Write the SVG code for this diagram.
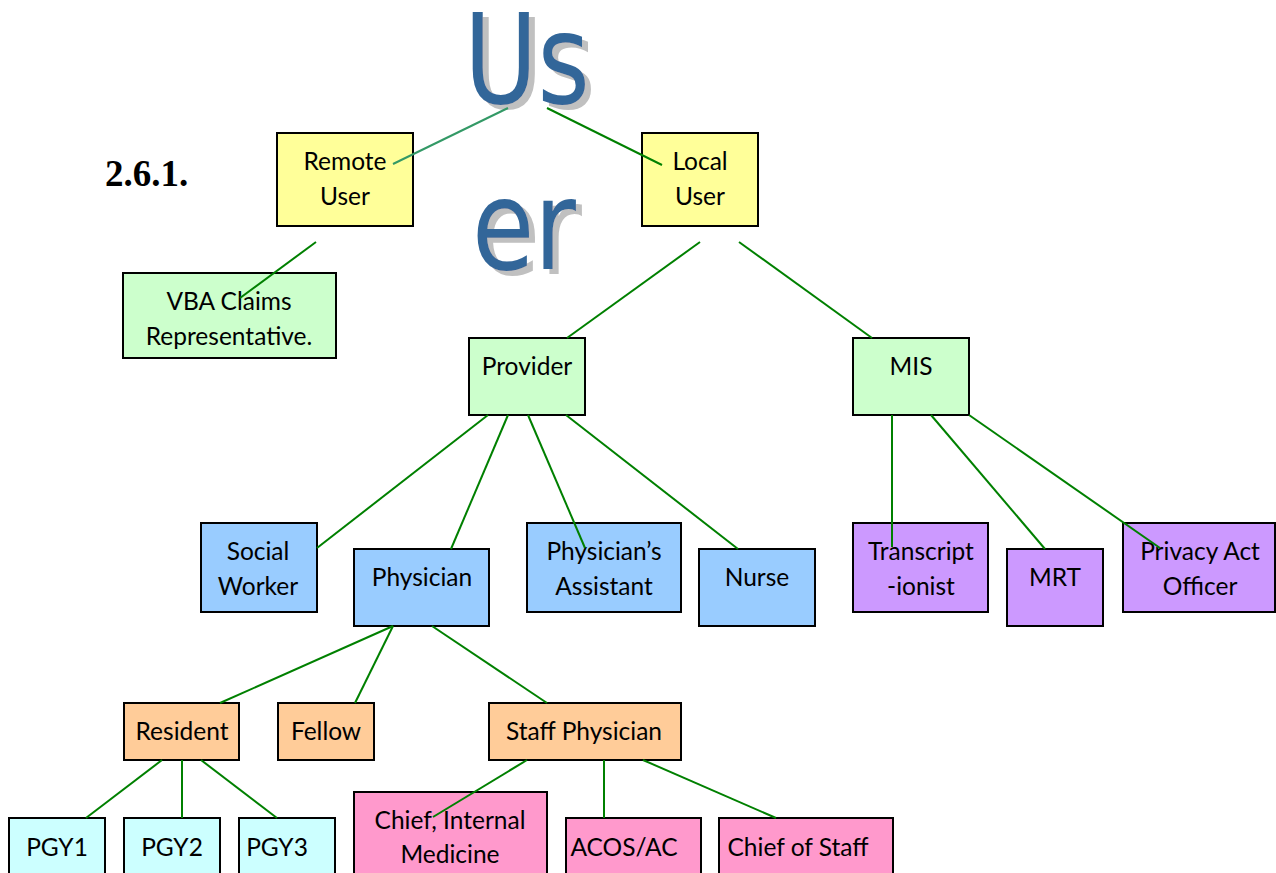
<svg xmlns="http://www.w3.org/2000/svg" width="1276" height="873" viewBox="0 0 1276 873">
<defs>
<filter id="shadow" x="-10%" y="-10%" width="130%" height="130%">
<feOffset in="SourceAlpha" dx="6" dy="5" result="off"/>
<feFlood flood-color="#C0C0C0"/>
<feComposite in2="off" operator="in" result="sh"/>
<feMerge><feMergeNode in="sh"/><feMergeNode in="SourceGraphic"/></feMerge>
</filter>
</defs>
<style>
.box{stroke:#000;stroke-width:2}
.t{font-family:Lato,"Open Sans","Liberation Sans",sans-serif;font-size:24.5px;fill:#000;text-anchor:middle}
.yel{fill:#FFFF99}.grn{fill:#CCFFCC}.blu{fill:#99CCFF}.pur{fill:#CC99FF}.org{fill:#FFCC99}.cyn{fill:#CCFFFF}.pnk{fill:#FF99CC}
.big{font-family:"DejaVu Sans",Verdana,sans-serif;font-size:124px;fill:#336699;filter:url(#shadow)}
.c line{stroke:#008000;stroke-width:2}
</style>
<rect width="1276" height="873" fill="#fff"/>
<g id="title">
<text class="big" x="464" y="103" textLength="126" lengthAdjust="spacingAndGlyphs">Us</text>
<text class="big" x="472" y="269" textLength="104" lengthAdjust="spacingAndGlyphs">er</text>
</g>
<g id="section"><text x="105" y="186" font-family="'Liberation Serif','Times New Roman',serif" font-weight="bold" font-size="37">2.6.1.</text></g>
<g id="remote-user"><rect class="box yel" x="277" y="133" width="136" height="93"/><text class="t" x="345" y="170">Remote</text><text class="t" x="345" y="205">User</text></g>
<g id="local-user"><rect class="box yel" x="642" y="133" width="116" height="93"/><text class="t" x="700" y="170">Local</text><text class="t" x="700" y="205">User</text></g>
<g id="vba"><rect class="box grn" x="123" y="273" width="213" height="85"/><text class="t" x="229" y="310">VBA Claims</text><text class="t" x="229" y="345">Representative.</text></g>
<g id="provider"><rect class="box grn" x="469" y="338" width="116" height="77"/><text class="t" x="527" y="375">Provider</text></g>
<g id="mis"><rect class="box grn" x="853" y="338" width="116" height="77"/><text class="t" x="911" y="375">MIS</text></g>
<g id="social-worker"><rect class="box blu" x="201" y="523" width="116" height="89"/><text class="t" x="258" y="560">Social</text><text class="t" x="258" y="595">Worker</text></g>
<g id="physician"><rect class="box blu" x="354" y="549" width="135" height="77"/><text class="t" x="422" y="586">Physician</text></g>
<g id="physicians-assistant"><rect class="box blu" x="527" y="523" width="154" height="89"/><text class="t" x="604" y="560">Physician’s</text><text class="t" x="604" y="595">Assistant</text></g>
<g id="nurse"><rect class="box blu" x="699" y="549" width="116" height="77"/><text class="t" x="757" y="586">Nurse</text></g>
<g id="transcriptionist"><rect class="box pur" x="853" y="523" width="135" height="89"/><text class="t" x="921" y="560">Transcript</text><text class="t" x="921" y="595">-ionist</text></g>
<g id="mrt"><rect class="box pur" x="1007" y="549" width="96" height="77"/><text class="t" x="1055" y="586">MRT</text></g>
<g id="privacy"><rect class="box pur" x="1123" y="523" width="152" height="89"/><text class="t" x="1200" y="560">Privacy Act</text><text class="t" x="1200" y="595">Officer</text></g>
<g id="resident"><rect class="box org" x="124" y="703" width="115" height="57"/><text class="t" x="182" y="740">Resident</text></g>
<g id="fellow"><rect class="box org" x="278" y="703" width="96" height="57"/><text class="t" x="326" y="740">Fellow</text></g>
<g id="staff-physician"><rect class="box org" x="489" y="703" width="192" height="57"/><text class="t" x="584" y="740">Staff Physician</text></g>
<g id="pgy1"><rect class="box cyn" x="9" y="818" width="96" height="80"/><text class="t" x="57" y="856">PGY1</text></g>
<g id="pgy2"><rect class="box cyn" x="124" y="818" width="96" height="80"/><text class="t" x="172" y="856">PGY2</text></g>
<g id="pgy3"><rect class="box cyn" x="239" y="818" width="96" height="80"/><text class="t" x="277" y="856">PGY3</text></g>
<g id="chief-im"><rect class="box pnk" x="354" y="792" width="193" height="100"/><text class="t" x="450" y="829">Chief, Internal</text><text class="t" x="450" y="863">Medicine</text></g>
<g id="acos"><rect class="box pnk" x="566" y="818" width="135" height="80"/><text class="t" x="624" y="856">ACOS/AC</text></g>
<g id="chief-staff"><rect class="box pnk" x="719" y="818" width="174" height="80"/><text class="t" x="798" y="856">Chief of Staff</text></g>
<g id="connectors" class="c">
<line x1="508" y1="108" x2="393" y2="164" style="stroke:#339966"/>
<line x1="547" y1="108" x2="662" y2="165"/>
<line x1="316" y1="242" x2="240" y2="298"/>
<line x1="700" y1="242" x2="567" y2="338"/>
<line x1="739" y1="242" x2="872" y2="338"/>
<line x1="488" y1="415" x2="317" y2="548"/>
<line x1="508" y1="415" x2="451" y2="549"/>
<line x1="528" y1="415" x2="585" y2="548"/>
<line x1="566" y1="415" x2="738" y2="549"/>
<line x1="892" y1="415" x2="892" y2="547"/>
<line x1="931" y1="415" x2="1045" y2="549"/>
<line x1="969" y1="415" x2="1160" y2="548"/>
<line x1="393" y1="626" x2="220" y2="703"/>
<line x1="393" y1="626" x2="355" y2="703"/>
<line x1="432" y1="626" x2="547" y2="703"/>
<line x1="162" y1="760" x2="86" y2="818"/>
<line x1="182" y1="760" x2="182" y2="818"/>
<line x1="201" y1="760" x2="277" y2="818"/>
<line x1="527" y1="760" x2="433" y2="817"/>
<line x1="604" y1="760" x2="604" y2="818"/>
<line x1="643" y1="760" x2="776" y2="818"/>
</g>
</svg>
